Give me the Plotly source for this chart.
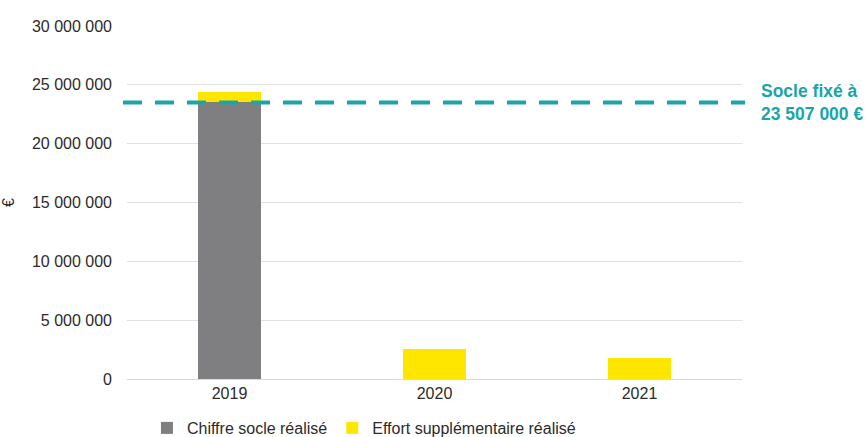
import plotly.graph_objects as go

# Montants par année (en €)
annees = ["2019", "2020", "2021"]
chiffre_socle = [23507000, 0, 0]
effort_supp = [900000, 2550000, 1780000]
socle_fixe = 23507000

y_ticks = [0, 5000000, 10000000, 15000000, 20000000, 25000000, 30000000]
y_tick_labels = ["0", "5 000 000", "10 000 000", "15 000 000",
                 "20 000 000", "25 000 000", "30 000 000"]

GRIS = "#7F7E80"
JAUNE = "#FFE600"
TEAL = "#1AA5A9"
TEXTE = "#2B2B2B"
FONT = "Liberation Sans, Arial, sans-serif"

fig = go.Figure()
fig.add_trace(go.Bar(x=annees, y=chiffre_socle, name="Chiffre socle réalisé",
                     marker=dict(color=GRIS, line=dict(width=0))))
fig.add_trace(go.Bar(x=annees, y=effort_supp, name="Effort supplémentaire réalisé",
                     marker=dict(color=JAUNE, line=dict(width=0))))

# Ligne du socle fixé
fig.add_shape(type="line", xref="paper", yref="y",
              x0=-0.0065, x1=1.005, y0=socle_fixe, y1=socle_fixe,
              line=dict(color=TEAL, width=4, dash="19px,13px"))

fig.add_annotation(xref="paper", yref="y", x=1.028, y=socle_fixe,
                   xanchor="left", yanchor="middle", showarrow=False, align="left",
                   text="<b>Socle fixé à<br>23 507 000 €</b>",
                   font=dict(family=FONT, size=17.5, color=TEAL))

fig.update_layout(
    width=866, height=437,
    margin=dict(l=127, r=124, t=26, b=58, autoexpand=False),
    barmode="stack", bargap=0.688,
    plot_bgcolor="white", paper_bgcolor="white",
    font=dict(family=FONT, size=16, color=TEXTE),
    showlegend=True,
    legend=dict(orientation="h", xref="container", x=0.1697, xanchor="left",
                yref="container", y=0.0206, yanchor="middle",
                font=dict(family=FONT, size=16, color=TEXTE),
                itemwidth=30, traceorder="normal"),
    xaxis=dict(showgrid=False, showline=True, linecolor="#D9D9D9", linewidth=1,
               ticks="", automargin=False,
               tickfont=dict(family=FONT, size=16, color=TEXTE)),
    yaxis=dict(range=[0, 30000000], tickvals=y_ticks, ticktext=y_tick_labels,
               showgrid=True, gridcolor="#E2E2E2", gridwidth=1, zeroline=False,
               ticks="", ticklabelstandoff=14, automargin=False,
               tickfont=dict(family=FONT, size=16, color=TEXTE),
               title=dict(text="€", standoff=13,
                          font=dict(family=FONT, size=16, color=TEXTE))),
)

fig.write_html("out.html")
